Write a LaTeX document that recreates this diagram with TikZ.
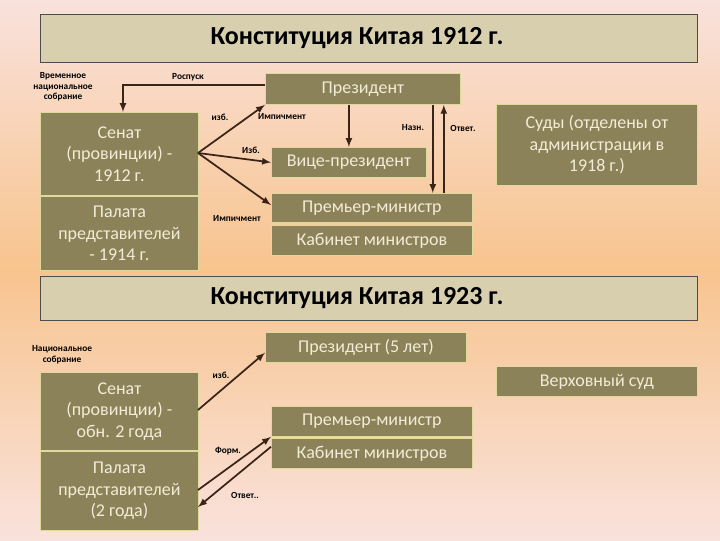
\documentclass[tikz,border=0pt]{standalone}
\usepackage{fontspec}
\setmainfont{Carlito}
\begin{document}
\begin{tikzpicture}[x=0.75pt,y=-0.75pt,
 box/.style={draw=white!70!olive, line width=0.6pt, fill=olivebox, text=boxtext, font=\fontsize{13.5}{16}\selectfont, align=center, inner sep=0pt, anchor=north west},
 title/.style={draw=black!70, line width=0.8pt, fill=titlefill, inner sep=0pt, anchor=north west},
 ttext/.style={font=\bfseries\fontsize{19.5}{22}\selectfont, xshift=-9pt},
 lbl/.style={font=\bfseries\fontsize{7}{8}\selectfont, align=center, text=black},
 arr/.style={line width=1.3pt, draw=arrowc, -latex}]
\definecolor{olivebox}{HTML}{8C8259}
\definecolor{boxtext}{HTML}{F2ECD6}
\definecolor{titlefill}{HTML}{D8CFAF}
\definecolor{arrowc}{HTML}{3A2418}
\definecolor{bgtop}{HTML}{F9E2DC}
\definecolor{bgmid}{HTML}{F8C48E}
\useasboundingbox (0,0) rectangle (720,540);
\shade[top color=bgtop, bottom color=bgmid] (0,0) rectangle (720,270);
\shade[top color=bgmid, bottom color=bgtop] (0,270) rectangle (720,540);
% titles
\node[title, minimum width=657*0.75pt, minimum height=48*0.75pt] (t1) at (40,14) {};
\node[ttext] at (t1.center) {Конституция Китая 1912 г.};
\node[title, minimum width=657*0.75pt, minimum height=44*0.75pt] (t2) at (40,276) {};
\node[ttext] at (t2.center) {Конституция Китая 1923 г.};
% 1912
\node[box, minimum width=158*0.75pt, minimum height=83*0.75pt] (sen) at (40,112) {};
\node[box, anchor=center, fill=none, draw=none] at (sen.center) {Сенат\\(провинции) -\\1912 г.};
\node[box, minimum width=158*0.75pt, minimum height=74*0.75pt] (pal) at (40,196) {};
\node[box, anchor=center, fill=none, draw=none] at (pal.center) {Палата\\представителей\\- 1914 г.};
\node[box, minimum width=195*0.75pt, minimum height=31*0.75pt] (pres) at (265,73) {Президент};
\node[box, minimum width=155*0.75pt, minimum height=30*0.75pt] (vice) at (271,147) {Вице-президент};
\node[box, minimum width=201*0.75pt, minimum height=29*0.75pt] (prem) at (271,193) {Премьер-министр};
\node[box, minimum width=201*0.75pt, minimum height=30*0.75pt] (cab) at (271,225) {Кабинет министров};
\node[box, minimum width=201*0.75pt, minimum height=81*0.75pt] (courts) at (496,104) {};
\node[box, anchor=center, fill=none, draw=none] at (courts.center) {Суды (отделены от\\администрации в\\1918 г.)};
\coordinate (s1) at (198,153);
\coordinate (r1) at (123,85);
\draw[line width=1.3pt, draw=arrowc, -latex] (pres.west |- 0,85) -- (r1) -- (r1 |- sen.north);
\draw[arr] (s1) -- (pres.south west);
\draw[arr] (s1) -- (vice.west);
\draw[arr] (s1) -- ([yshift=-9pt]prem.north west);
\draw[arr] (pres.south -| vice.center) -- (vice.north);
\draw[arr] ([xshift=-28*0.75pt]pres.south east) -- ([xshift=-40*0.75pt]prem.north east);
\draw[arr] ([xshift=-29*0.75pt]prem.north east) -- ([xshift=-17*0.75pt]pres.south east);
\node[lbl] (l1) at (63,87) {Временное\\национальное\\собрание};
\node[lbl] (l2) at (188,77) {Роспуск};
\node[lbl] (l3) at (220,117) {изб.};
\node[lbl] (l4) at (282,117) {Импичмент};
\node[lbl] (l5) at (251,150) {Изб.};
\node[lbl] (l6) at (237,218) {Импичмент};
\node[lbl] (l7) at (413,128) {Назн.};
\node[lbl] (l8) at (463,128) {Ответ.};
% 1923
\node[box, minimum width=158*0.75pt, minimum height=78*0.75pt] (sen2) at (40,372) {};
\node[box, anchor=center, fill=none, draw=none] at (sen2.center) {Сенат\\(провинции) -\\обн. 2 года};
\node[box, minimum width=158*0.75pt, minimum height=79*0.75pt] (pal2) at (40,451) {};
\node[box, anchor=center, fill=none, draw=none] at (pal2.center) {Палата\\представителей\\(2 года)};
\node[box, minimum width=201*0.75pt, minimum height=30*0.75pt] (pres2) at (265,332) {Президент (5 лет)};
\node[box, minimum width=201*0.75pt, minimum height=30*0.75pt] (prem2) at (271,406) {Премьер-министр};
\node[box, minimum width=201*0.75pt, minimum height=30*0.75pt] (cab2) at (271,438) {Кабинет министров};
\node[box, minimum width=201*0.75pt, minimum height=30*0.75pt] (sup) at (496,366) {Верховный суд};
\coordinate (s2) at (198,410);
\coordinate (p2a) at (198,490);
\coordinate (p2b) at (198,507);
\draw[arr] (s2) -- ([yshift=-4pt]pres2.west);
\draw[arr] (p2a) -- (prem2.south west);
\draw[arr] ([yshift=5pt]cab2.west) -- (p2b);
\node[lbl] (m1) at (62,355) {Национальное\\собрание};
\node[lbl] (m2) at (221,375) {изб.};
\node[lbl] (m3) at (228,451) {Форм.};
\node[lbl] (m4) at (245,495) {Ответ..};
\end{tikzpicture}
\end{document}
